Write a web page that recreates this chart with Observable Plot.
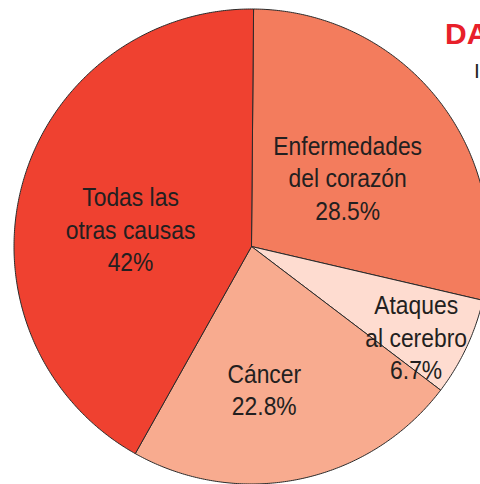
<!DOCTYPE html>
<html>
<head>
<meta charset="utf-8">
<script src="https://cdn.jsdelivr.net/npm/d3@7"></script>
<script src="https://cdn.jsdelivr.net/npm/@observablehq/plot@0.6"></script>
<style>
  html, body { margin: 0; padding: 0; background: #fff; }
  body { width: 480px; height: 484px; overflow: hidden; position: relative; }
  #title { position: absolute; left: 445px; top: 19px; font: bold 30px/1 "Liberation Sans", Arial, sans-serif; color: #e8202a; white-space: nowrap; }
  #subtitle { position: absolute; left: 474px; top: 60px; font: 21px/1 "Liberation Sans", Arial, sans-serif; color: #231f20; white-space: nowrap; }
  #chart { position: absolute; left: 0; top: 0; }
</style>
</head>
<body>
<div id="chart"></div>
<div id="title">DATOS</div>
<div id="subtitle">Incidencia</div>
<script>
// ---- data ----
const categories = ["Enfermedades del corazón", "Ataques al cerebro", "Cáncer", "Todas las otras causas"];
const shares = [28.5, 6.7, 22.8, 42];
const labelNames = ["Enfermedades\ndel corazón", "Ataques\nal cerebro", "Cáncer", "Todas las\notras causas"];
const percentLabels = ["28.5%", "6.7%", "22.8%", "42%"];
const colors = ["#f37c5d", "#fedcd0", "#f8ab8f", "#ef4130"];

// ---- layout (not data) ----
const startDeg = 0.5;            // first slice starts just right of 12 o'clock, clockwise
const labelRadius = [0.50, 0.79, 0.60, 0.515];
const labelAngleShift = [2.3, 3.5, 6.6, -6.4];

const total = d3.sum(shares);
let cum = 0;
const slices = categories.map((name, i) => {
  const a0 = startDeg + cum / total * 360;
  cum += shares[i];
  const a1 = startDeg + cum / total * 360;
  return {name, a0, a1, i};
});

const rad = d => d * Math.PI / 180;
const points = [];
for (const s of slices) {
  points.push({name: s.name, x: 0, y: 0});
  const n = Math.max(2, Math.ceil((s.a1 - s.a0) / 0.5));
  for (let k = 0; k <= n; k++) {
    const a = rad(s.a0 + (s.a1 - s.a0) * k / n);
    points.push({name: s.name, x: Math.sin(a), y: Math.cos(a)});
  }
  points.push({name: s.name, x: 0, y: 0});
}

const labels = slices.map(s => {
  const a = rad((s.a0 + s.a1) / 2 + labelAngleShift[s.i]);
  const r = labelRadius[s.i];
  return {
    name: s.name,
    text: labelNames[s.i] + "\n" + percentLabels[s.i],
    x: r * Math.sin(a),
    y: r * Math.cos(a)
  };
});

const chart = Plot.plot({
  width: 480,
  height: 484,
  margin: 0,
  x: {domain: [-1, 1], range: [13.5, 488.5], axis: null},
  y: {domain: [-1, 1], range: [483.5, 8.5], axis: null},
  color: {domain: categories, range: colors},
  style: {background: "transparent", overflow: "hidden"},
  marks: [
    Plot.line(points, {x: "x", y: "y", z: "name", fill: "name", stroke: "#2a2a2a", strokeWidth: 1, strokeLinejoin: "round"}),
    Plot.text(labels, {
      x: "x", y: "y", text: "text",
      fontSize: 26, lineHeight: 1.25,
      fontFamily: "'Liberation Sans', Arial, sans-serif",
      fill: "#231f20", textAnchor: "middle", lineAnchor: "middle",
      className: "slice-label"
    })
  ]
});
// condensed look: narrow the label glyphs horizontally
chart.querySelectorAll(".slice-label text").forEach(t => {
  const tr = t.getAttribute("transform") || "";
  t.setAttribute("transform", tr + " scale(0.88,1)");
});
document.getElementById("chart").appendChild(chart);
</script>
</body>
</html>
